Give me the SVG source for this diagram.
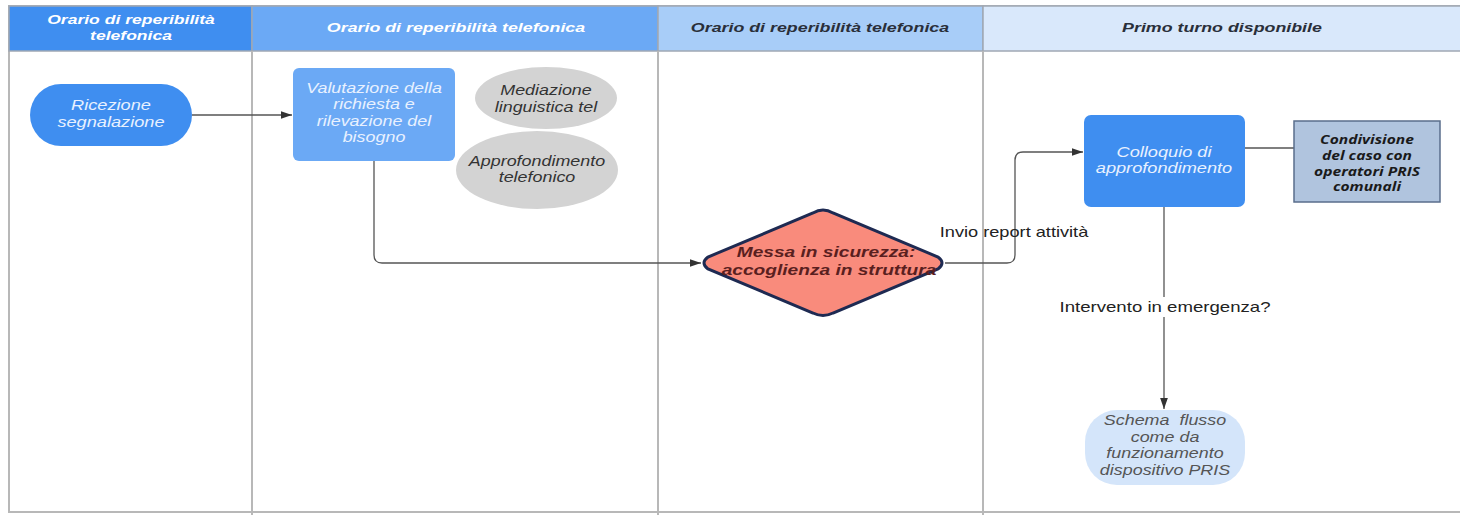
<svg xmlns="http://www.w3.org/2000/svg" width="1460" height="515" viewBox="0 0 1460 515">
<defs>
<style>
.lane{fill:#ffffff;stroke:#b8b8b8;stroke-width:2}
.hdr{stroke:#a0a8b4;stroke-width:1.5}
.ht{font-family:"Liberation Sans",Arial,sans-serif;font-size:13.5px;font-weight:bold;font-style:italic;text-anchor:middle}
.t{font-family:"Liberation Sans",Arial,sans-serif;font-size:14px;font-style:italic;text-anchor:middle}
.lbl{font-family:"Liberation Sans",Arial,sans-serif;font-size:14px;fill:#222;text-anchor:middle}
.dt{font-family:"Liberation Sans",Arial,sans-serif;font-size:14.5px;font-weight:bold;font-style:italic;text-anchor:middle;fill:#5a1f1f}
.ct{font-family:"Open Sans","Liberation Sans",sans-serif;font-size:13px;font-weight:bold;font-style:italic;text-anchor:middle;fill:#1a1a1a}
.cn{fill:none;stroke:#555;stroke-width:1.3}
</style>
<marker id="ah" viewBox="0 0 10 10" refX="10" refY="5" markerWidth="11" markerHeight="11" markerUnits="userSpaceOnUse" orient="auto">
<path d="M0,1.5 L10,5 L0,8.5 Z" fill="#333"/>
</marker>
</defs>
<rect width="1460" height="515" fill="#ffffff"/>
<g id="lanes">
<rect class="lane" x="9" y="6" width="1460" height="506"/>
<rect class="hdr" x="9" y="6" width="243" height="45" fill="#3f8ef0"/>
<rect class="hdr" x="252" y="6" width="406" height="45" fill="#6ba9f5"/>
<rect class="hdr" x="658" y="6" width="325" height="45" fill="#a8cdf8"/>
<rect class="hdr" x="983" y="6" width="490" height="45" fill="#d9e8fb"/>
<line x1="252" y1="51" x2="252" y2="515" stroke="#b8b8b8" stroke-width="2"/>
<line x1="658" y1="51" x2="658" y2="515" stroke="#b8b8b8" stroke-width="2"/>
<line x1="983" y1="51" x2="983" y2="515" stroke="#b8b8b8" stroke-width="2"/>
<text class="ht" transform="matrix(1.3 0 0 1 131 0)" x="0" y="24" fill="#ffffff">Orario di reperibilità</text>
<text class="ht" transform="matrix(1.3 0 0 1 131 0)" x="0" y="40" fill="#ffffff">telefonica</text>
<text class="ht" transform="matrix(1.32 0 0 1 456 0)" x="0" y="32" fill="#ffffff">Orario di reperibilità telefonica</text>
<text class="ht" transform="matrix(1.32 0 0 1 820 0)" x="0" y="32" fill="#2a2f3a">Orario di reperibilità telefonica</text>
<text class="ht" transform="matrix(1.32 0 0 1 1222 0)" x="0" y="32" fill="#2a2f3a">Primo turno disponibile</text>
</g>
<g id="connectors">
<path class="cn" d="M192,115 L292,115" marker-end="url(#ah)"/>
<path class="cn" d="M374,161 L374,255 Q374,263 382,263 L701,263" marker-end="url(#ah)"/>
<path class="cn" d="M945,263 L1007,263 Q1015,263 1015,255 L1015,160 Q1015,152 1023,152 L1083,152" marker-end="url(#ah)"/>
<path class="cn" d="M1245,148 L1294,148"/>
<path class="cn" d="M1164,207 L1164,409" marker-end="url(#ah)"/>
<text class="lbl" transform="matrix(1.3 0 0 1 1014 0)" x="0" y="237">Invio report attività</text>
<rect x="1058" y="297" width="212" height="20" fill="#ffffff"/>
<text class="lbl" transform="matrix(1.33 0 0 1 1165 0)" x="0" y="312">Intervento in emergenza?</text>
</g>
<g id="ricezione">
<rect x="30" y="84" width="162" height="62" rx="31" fill="#3f8ef0"/>
<text class="t" transform="matrix(1.3 0 0 1 111 0)" x="0" y="110" fill="#e8f1ff">Ricezione</text>
<text class="t" transform="matrix(1.3 0 0 1 111 0)" x="0" y="127" fill="#e8f1ff">segnalazione</text>
</g>
<g id="valutazione">
<rect x="293" y="68" width="162" height="93" rx="6" fill="#6ba9f5"/>
<text class="t" transform="matrix(1.28 0 0 1 374 0)" x="0" y="93" fill="#e8f1ff">Valutazione della</text>
<text class="t" transform="matrix(1.28 0 0 1 374 0)" x="0" y="109" fill="#e8f1ff">richiesta e</text>
<text class="t" transform="matrix(1.28 0 0 1 374 0)" x="0" y="126" fill="#e8f1ff">rilevazione del</text>
<text class="t" transform="matrix(1.28 0 0 1 374 0)" x="0" y="142" fill="#e8f1ff">bisogno</text>
</g>
<g id="mediazione">
<ellipse cx="546" cy="98" rx="71" ry="31" fill="#d3d3d3"/>
<text class="t" transform="matrix(1.28 0 0 1 546 0)" x="0" y="95" fill="#333">Mediazione</text>
<text class="t" transform="matrix(1.28 0 0 1 546 0)" x="0" y="112" fill="#333">linguistica tel</text>
</g>
<g id="approfondimento">
<ellipse cx="537" cy="170" rx="81" ry="39" fill="#d3d3d3"/>
<text class="t" transform="matrix(1.28 0 0 1 537 0)" x="0" y="166" fill="#333">Approfondimento</text>
<text class="t" transform="matrix(1.28 0 0 1 537 0)" x="0" y="182" fill="#333">telefonico</text>
</g>
<g id="messa">
<path d="M823,210 Q828,210 833,213 L938,257 Q946,263 938,269 L833,313 Q823,318 813,313 L708,269 Q700,263 708,257 L813,213 Q818,210 823,210 Z" fill="#f98b7c" stroke="#1e2a52" stroke-width="3"/>
<text class="dt" transform="matrix(1.32 0 0 1 826 0)" x="0" y="257">Messa in sicurezza:</text>
<text class="dt" transform="matrix(1.32 0 0 1 829 0)" x="0" y="275">accoglienza in struttura</text>
</g>
<g id="colloquio">
<rect x="1084" y="115" width="161" height="92" rx="7" fill="#3f8ef0"/>
<text class="t" transform="matrix(1.3 0 0 1 1164 0)" x="0" y="157" fill="#e8f1ff">Colloquio di</text>
<text class="t" transform="matrix(1.3 0 0 1 1164 0)" x="0" y="173" fill="#e8f1ff">approfondimento</text>
</g>
<g id="condivisione">
<rect x="1294" y="121" width="146" height="81" fill="#b0c4de" stroke="#5a6e8c" stroke-width="1.5"/>
<text class="ct" transform="matrix(1.2 0 0 1 1367 0)" x="0" y="144">Condivisione</text>
<text class="ct" transform="matrix(1.2 0 0 1 1367 0)" x="0" y="160">del caso con</text>
<text class="ct" transform="matrix(1.2 0 0 1 1367 0)" x="0" y="176">operatori PRIS</text>
<text class="ct" transform="matrix(1.2 0 0 1 1367 0)" x="0" y="191">comunali</text>
</g>
<g id="schema">
<rect x="1085" y="410" width="160" height="75" rx="32" fill="#d4e5fa"/>
<text class="t" transform="matrix(1.28 0 0 1 1165 0)" x="0" y="425" fill="#555">Schema&#160; flusso</text>
<text class="t" transform="matrix(1.28 0 0 1 1165 0)" x="0" y="442" fill="#555">come da</text>
<text class="t" transform="matrix(1.28 0 0 1 1165 0)" x="0" y="458" fill="#555">funzionamento</text>
<text class="t" transform="matrix(1.28 0 0 1 1165 0)" x="0" y="475" fill="#555">dispositivo PRIS</text>
</g>
</svg>
